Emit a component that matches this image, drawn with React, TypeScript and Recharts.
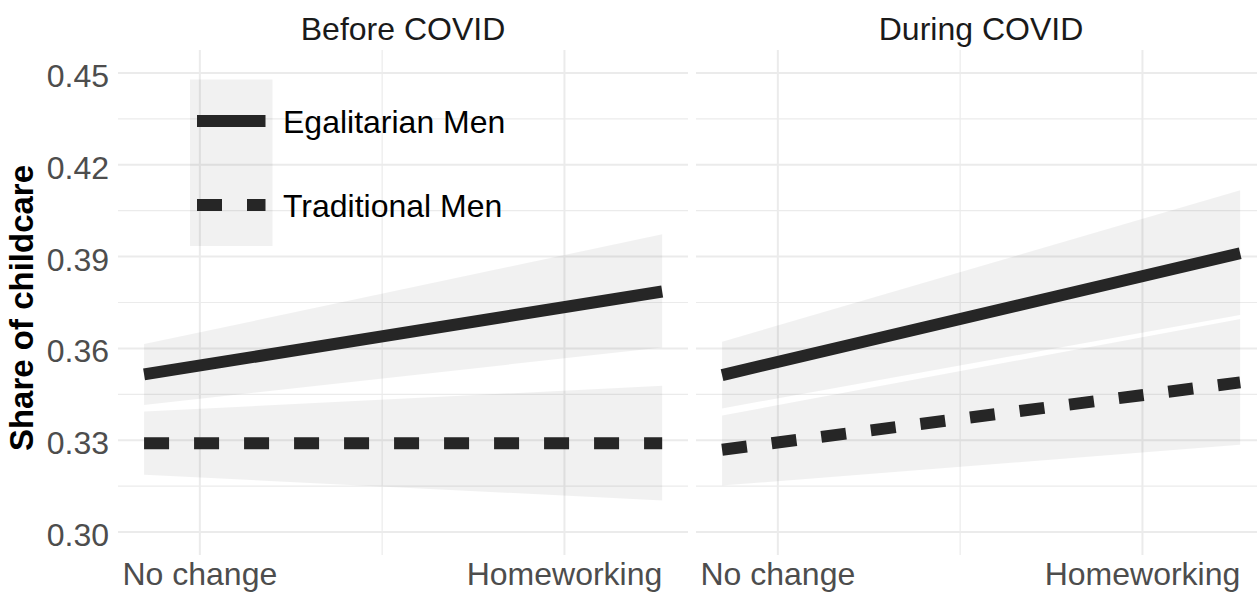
import React from 'react';
import { ComposedChart, Area, Line, XAxis, YAxis, CartesianGrid } from 'recharts';

// x runs on a 0/1 scale: 0 = "No change", 1 = "Homeworking"
const xLabels = ['No change', 'Homeworking'];
const xEnds = [-0.153, 1.268];
const yTicks = [0.3, 0.33, 0.36, 0.39, 0.42, 0.45];
const yMinor = [0.315, 0.345, 0.375, 0.405, 0.435];
const panels = ['Before COVID', 'During COVID'];
const groups = ['Egalitarian Men', 'Traditional Men'];

// fitted share of childcare with 95% band, at the two ends of each line
const egalBefore = [0.3515, 0.3786];
const egalBeforeLo = [0.3415, 0.3603];
const egalBeforeHi = [0.3614, 0.3973];
const tradBefore = [0.329, 0.329];
const tradBeforeLo = [0.3187, 0.3103];
const tradBeforeHi = [0.3394, 0.3478];

const egalDuring = [0.3513, 0.3911];
const egalDuringLo = [0.3404, 0.3709];
const egalDuringHi = [0.3622, 0.4117];
const tradDuring = [0.3269, 0.3489];
const tradDuringLo = [0.3152, 0.3285];
const tradDuringHi = [0.3381, 0.3696];

const buildRows = (egal: number[], egalLo: number[], egalHi: number[], trad: number[], tradLo: number[], tradHi: number[]) =>
  xEnds.map((x, i) => ({
    x,
    egal: egal[i],
    egalBand: [egalLo[i], egalHi[i]],
    trad: trad[i],
    tradBand: [tradLo[i], tradHi[i]],
  }));

const beforeRows = buildRows(egalBefore, egalBeforeLo, egalBeforeHi, tradBefore, tradBeforeLo, tradBeforeHi);
const duringRows = buildRows(egalDuring, egalDuringLo, egalDuringHi, tradDuring, tradDuringLo, tradDuringHi);

const X_DOMAIN: [number, number] = [-0.2245, 1.3388];
const Y_DOMAIN: [number, number] = [0.2925, 0.4575];
const TOP = 50;
const PLOT_H = 505;
const PLOT_W = 570;
const LEFT_AXIS = 118;
const RIGHT_PANEL_X = 696;

const FONT = '"Liberation Sans", Arial, Helvetica, sans-serif';
const INK = '#262626';
const BAND = '#000000';
const BAND_OPACITY = 0.055;
const GRID = '#EBEBEB';

const XTick = (props: any) => {
  const { x, payload } = props;
  return (
    <text x={x} y={585} textAnchor="middle" fontSize={32} fill="#4D4D4D" fontFamily={FONT}>
      {xLabels[payload.value]}
    </text>
  );
};

const YTick = (props: any) => {
  const { y, payload } = props;
  return (
    <text x={LEFT_AXIS - 9} y={y + 14} textAnchor="end" fontSize={32} fill="#4D4D4D" fontFamily={FONT}>
      {payload.value.toFixed(2)}
    </text>
  );
};

const Panel = ({ rows, showY }: { rows: any[]; showY: boolean }) => {
  const width = showY ? LEFT_AXIS + PLOT_W : PLOT_W;
  return (
    <ComposedChart
      width={width}
      height={TOP + PLOT_H + 38}
      data={rows}
      margin={{ top: TOP, right: 0, left: 0, bottom: 0 }}
      style={{ overflow: 'visible' }}
    >
      <CartesianGrid
        stroke={GRID}
        strokeWidth={1.2}
        horizontalValues={yMinor}
        verticalValues={[0.5]}
      />
      <CartesianGrid
        stroke={GRID}
        strokeWidth={2}
        horizontalValues={yTicks}
        verticalValues={[0, 1]}
      />
      <XAxis
        dataKey="x"
        type="number"
        domain={X_DOMAIN}
        ticks={[0, 1]}
        allowDataOverflow
        axisLine={false}
        tickLine={false}
        height={38}
        tick={<XTick />}
        interval={0}
      />
      <YAxis
        type="number"
        domain={Y_DOMAIN}
        ticks={yTicks}
        allowDataOverflow
        axisLine={false}
        tickLine={false}
        width={LEFT_AXIS}
        hide={!showY}
        tick={<YTick />}
        interval={0}
      />
      <Area dataKey="egalBand" type="linear" fill={BAND} fillOpacity={BAND_OPACITY} stroke="none" isAnimationActive={false} />
      <Area dataKey="tradBand" type="linear" fill={BAND} fillOpacity={BAND_OPACITY} stroke="none" isAnimationActive={false} />
      <Line dataKey="egal" type="linear" stroke={INK} strokeWidth={12} strokeLinecap="butt" dot={false} activeDot={false} isAnimationActive={false} />
      <Line
        dataKey="trad"
        type="linear"
        stroke={INK}
        strokeWidth={12}
        strokeLinecap="butt"
        strokeDasharray="25 25"
        dot={false}
        activeDot={false}
        isAnimationActive={false}
      />
    </ComposedChart>
  );
};

const Overlay = () => (
  <svg width={1257} height={593} style={{ position: 'absolute', left: 0, top: 0, pointerEvents: 'none' }} fontFamily={FONT}>
    {/* facet strips */}
    <text x={LEFT_AXIS + PLOT_W / 2} y={40} textAnchor="middle" fontSize={32} fill="#1A1A1A">
      {panels[0]}
    </text>
    <text x={RIGHT_PANEL_X + PLOT_W / 2} y={40} textAnchor="middle" fontSize={32} fill="#1A1A1A">
      {panels[1]}
    </text>
    {/* y axis title */}
    <text
      transform="translate(33, 308) rotate(-90)"
      textAnchor="middle"
      fontSize={33}
      fontWeight="bold"
      fill="#000"
    >
      Share of childcare
    </text>
    {/* legend */}
    <rect x={190} y={79.5} width={82.5} height={83} fill={BAND} fillOpacity={BAND_OPACITY} />
    <rect x={190} y={162.5} width={82.5} height={83.5} fill={BAND} fillOpacity={BAND_OPACITY} />
    <line x1={197} x2={265.5} y1={121} y2={121} stroke={INK} strokeWidth={12} />
    <line x1={197} x2={265.5} y1={205} y2={205} stroke={INK} strokeWidth={12} strokeDasharray="25 25" />
    <text x={283} y={133} fontSize={32} fill="#000">
      {groups[0]}
    </text>
    <text x={283} y={217} fontSize={32} fill="#000">
      {groups[1]}
    </text>
  </svg>
);

export default function App() {
  return (
    <div
      style={{
        position: 'fixed',
        left: 0,
        top: 0,
        width: 1257,
        height: 593,
        overflow: 'hidden',
        background: '#fff',
        fontFamily: FONT,
      }}
    >
      <div style={{ position: 'absolute', left: 0, top: 0 }}>
        <Panel rows={beforeRows} showY />
      </div>
      <div style={{ position: 'absolute', left: RIGHT_PANEL_X, top: 0 }}>
        <Panel rows={duringRows} showY={false} />
      </div>
      <Overlay />
    </div>
  );
}
